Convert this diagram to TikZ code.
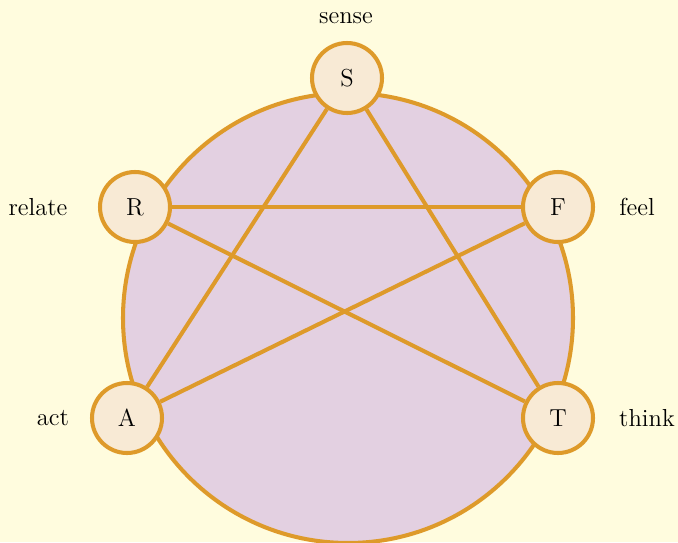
\documentclass[tikz,border=0pt]{standalone}
\usepackage{xcolor}
\usepackage{tikz}

\definecolor{bgyellow}{RGB}{255,252,222}
\definecolor{ringorange}{RGB}{222,154,42}
\definecolor{discpurple}{RGB}{227,208,225}
\definecolor{nodecream}{RGB}{248,234,213}

\begin{document}
\begin{tikzpicture}[
  hub/.style={circle,draw=ringorange,fill=nodecream,line width=2.3pt,
              minimum size=1.4cm,inner sep=0pt,font=\fontsize{14}{16}\selectfont},
  lbl/.style={font=\fontsize{14}{16}\selectfont},
  link/.style={draw=ringorange,line width=2.3pt}]

  \useasboundingbox (0,0) rectangle (13.56,10.84);
  \clip (0,0) rectangle (13.56,10.84);
  \fill[bgyellow] (0,0) rectangle (13.56,10.84);

  \coordinate (mid) at (6.96,4.48);
  \draw[ringorange,fill=discpurple,line width=2.3pt] (mid) circle (4.5);

  \node[hub] (S) at (6.94,9.28) {S};
  \node[hub] (F) at (11.16,6.70) {F};
  \node[hub] (R) at (2.70,6.70) {R};
  \node[hub] (A) at (2.54,2.48) {A};
  \node[hub] (T) at (11.16,2.48) {T};

  \draw[link] (S) -- (A);
  \draw[link] (S) -- (T);
  \draw[link] (R) -- (F);
  \draw[link] (R) -- (T);
  \draw[link] (F) -- (A);

  \node[lbl] (sense)  at (6.92,10.48) {sense};
  \node[lbl] (relate) at (0.76,6.70)  {relate};
  \node[lbl] (feel)   at (12.74,6.70) {feel};
  \node[lbl] (act)    at (1.06,2.48)  {act};
  \node[lbl] (think)  at (12.94,2.48) {think};

\end{tikzpicture}
\end{document}
